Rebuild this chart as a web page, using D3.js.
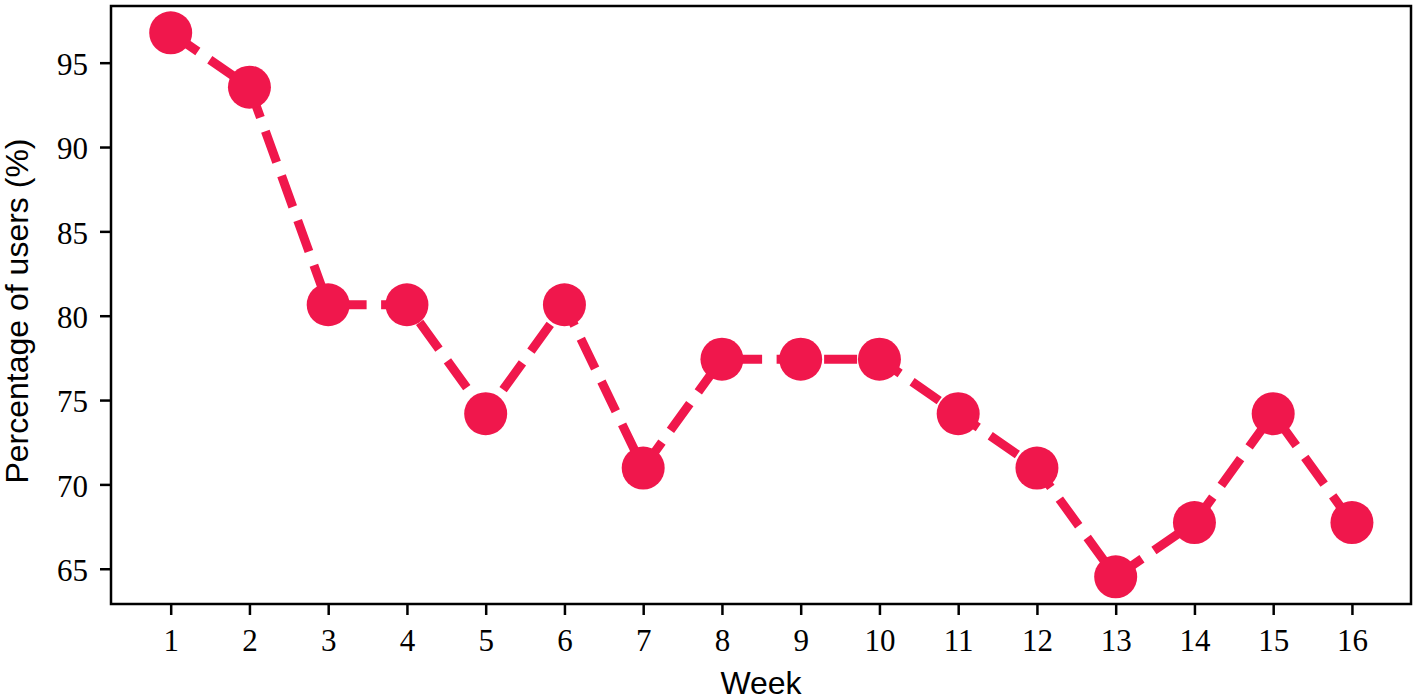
<!DOCTYPE html>
<html>
<head>
<meta charset="utf-8">
<script src="https://cdn.jsdelivr.net/npm/d3@7/dist/d3.min.js"></script>
<style>
  html, body { margin: 0; padding: 0; background: #fff; }
  svg { display: block; }
  .tick text { font-family: "Liberation Serif", "DejaVu Serif", serif; font-size: 31px; fill: #000; }
</style>
</head>
<body>
<svg id="chart" width="1418" height="700"></svg>
<script>
const weeks = [1, 2, 3, 4, 5, 6, 7, 8, 9, 10, 11, 12, 13, 14, 15, 16];
const percentUsers = [96.77, 93.55, 80.65, 80.65, 74.19, 80.65, 70.97, 77.42, 77.42, 77.42, 74.19, 70.97, 64.52, 67.74, 74.19, 67.74];
const yTicks = [65, 70, 75, 80, 85, 90, 95];
const xLabel = "Week";
const yLabel = "Percentage of users (%)";

(function () {
const svg = d3.select("#chart");
const mLeft = 111, mRight = 1411, mTop = 6, mBottom = 604;
const color = "#f0174c";

const x = d3.scaleLinear().domain([0.242, 16.75]).range([mLeft, mRight]);
const y = d3.scaleLinear().domain([62.91, 98.36]).range([mBottom, mTop]);

// x axis
const gx = svg.append("g")
  .attr("transform", `translate(0,${mBottom})`)
  .call(d3.axisBottom(x).tickValues(weeks).tickFormat(d3.format("d")).tickSize(11).tickPadding(14));
gx.select(".domain").remove();
gx.selectAll(".tick line").attr("stroke", "#000").attr("stroke-width", 2.5);

// y axis
const gy = svg.append("g")
  .attr("transform", `translate(${mLeft},0)`)
  .call(d3.axisLeft(y).tickValues(yTicks).tickFormat(d3.format("d")).tickSize(11).tickPadding(12));
gy.select(".domain").remove();
gy.selectAll(".tick line").attr("stroke", "#000").attr("stroke-width", 2.5);
gy.selectAll(".tick text").attr("dy", "0.38em");

// line
const line = d3.line().x((d, i) => x(weeks[i])).y(d => y(d));
svg.append("path")
  .datum(percentUsers)
  .attr("d", line)
  .attr("fill", "none")
  .attr("stroke", color)
  .attr("stroke-width", 9)
  .attr("stroke-dasharray", "33,14.5");

// markers
svg.append("g").selectAll("circle")
  .data(percentUsers)
  .join("circle")
  .attr("cx", (d, i) => x(weeks[i]))
  .attr("cy", d => y(d))
  .attr("r", 21.5)
  .attr("fill", color);

// frame
svg.append("rect")
  .attr("x", mLeft).attr("y", mTop)
  .attr("width", mRight - mLeft).attr("height", mBottom - mTop)
  .attr("fill", "none").attr("stroke", "#000").attr("stroke-width", 2.5);

// labels
svg.append("text")
  .attr("x", (mLeft + mRight) / 2).attr("y", 694)
  .attr("text-anchor", "middle")
  .attr("font-family", "'Liberation Sans', Arial, sans-serif")
  .attr("font-size", 32)
  .text(xLabel);

svg.append("text")
  .attr("transform", `translate(28,311) rotate(-90)`)
  .attr("text-anchor", "middle")
  .attr("font-family", "'Liberation Sans', Arial, sans-serif")
  .attr("font-size", 32)
  .text(yLabel);
})();
</script>
</body>
</html>
